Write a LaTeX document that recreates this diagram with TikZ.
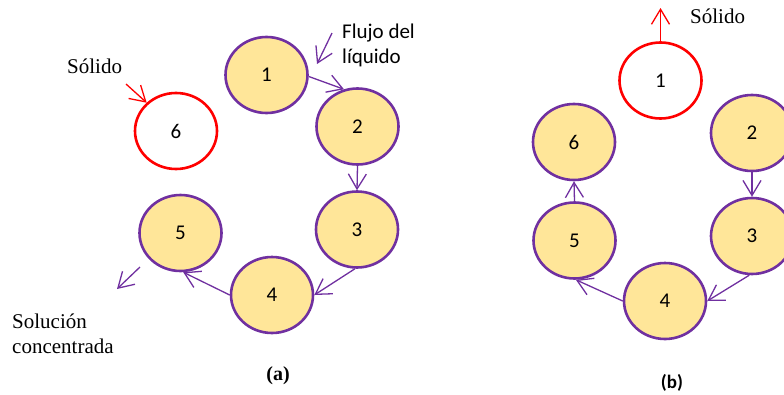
\documentclass[tikz,border=0pt]{standalone}
\usepackage{fontspec}
\setmainfont{Liberation Serif}
\newfontfamily\tnr{Liberation Serif}
\newfontfamily\calib{Carlito}
\usepackage{tikz}
\usetikzlibrary{shapes.geometric,arrows.meta}

\definecolor{stagepurple}{HTML}{7030A0}
\definecolor{stagefill}{HTML}{FFE699}
\definecolor{solidred}{HTML}{FF0000}

\begin{document}
\begin{tikzpicture}[x=1pt, y=-1pt,
  stage/.style={ellipse, draw=stagepurple, line width=2.6pt, fill=stagefill, minimum width=82pt, minimum height=76pt, inner sep=0pt, font=\calib\fontsize{21}{25}\selectfont},
  fresh/.style={stage, draw=solidred, fill=white},
  flow/.style={-{Straight Barb[length=15pt,width=18pt]}, line width=1.3pt, color=stagepurple},
  solidflow/.style={flow, color=solidred},
  lbl/.style={inner sep=0pt, font=\tnr\fontsize{21}{25}\selectfont}]
\useasboundingbox (0,0) rectangle (784,394);

% (a) sistema en serie, el solido entra por la etapa 6
\node[stage] (a1) at (266.5,75) {1};
\node[stage] (a2) at (357.5,126.5) {2};
\node[stage] (a3) at (357,229.5) {3};
\node[stage] (a4) at (272,295) {4};
\node[stage] (a5) at (180.5,233) {5};
\node[fresh] (a6) at (176,131) {6};
\draw[flow] (a1.-2) -- (a2.110); \draw[flow] (a2.south) -- (a3.north); \draw[flow] (a3.-93) -- (a4.east); \draw[flow] (a4.west) -- (a5.-86);
\coordinate (liqin) at (332,33); \coordinate (liqend) at (317,64);
\coordinate (outa) at (140,267); \coordinate (outb) at (117,289);
\coordinate (solin) at (126,84);
\draw[flow] (liqin) -- (liqend);
\draw[flow] (outa) -- (outb);
\draw[solidflow] (solin) -- (a6.136);
\node[lbl, anchor=base west] (solA) at (67,73) {Sólido};
\node[lbl, anchor=north west, align=left, font=\calib\fontsize{21}{25}\selectfont] (liq) at (342,24) {Flujo del\\líquido};
\node[lbl, anchor=north west, align=left] (conc) at (12,314) {Solución\\concentrada};
\node[lbl, anchor=base, font=\tnr\bfseries\fontsize{20}{24}\selectfont] (capA) at (278,380) {(a)};

% (b) la etapa 1 se descarga
\node[fresh] (b1) at (660.5,80.5) {1};
\node[stage] (b2) at (752,133) {2};
\node[stage] (b3) at (752,236) {3};
\node[stage] (b4) at (665,301) {4};
\node[stage] (b5) at (574.5,240.5) {5};
\node[stage] (b6) at (574,142) {6};
\draw[flow] (b2.south) -- (b3.north); \draw[flow] (b3.-94) -- (b4.east); \draw[flow] (b4.west) -- (b5.-88); \draw[flow] (b5.north) -- (b6.south);
\coordinate (solout) at (660.5,8);
\draw[solidflow] (b1.north) -- (solout);
\node[lbl, anchor=base west] (solB) at (690,23) {Sólido};
\node[lbl, anchor=base, font=\calib\bfseries\fontsize{19}{23}\selectfont] (capB) at (672,388) {(b)};
\end{tikzpicture}
\end{document}
